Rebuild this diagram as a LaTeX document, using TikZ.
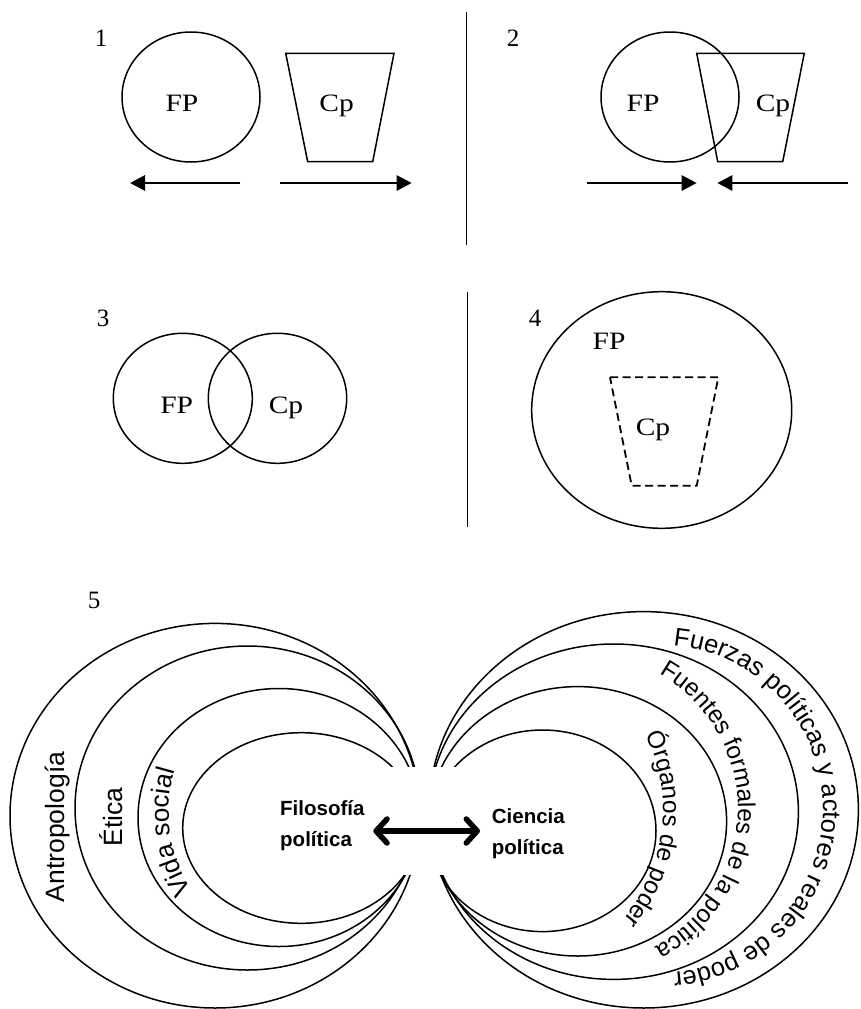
\documentclass[tikz,border=0pt]{standalone}
\usepackage{fontspec}
\setmainfont{Liberation Serif}
\newfontfamily\arialf{Liberation Sans}
\usetikzlibrary{arrows.meta,decorations.text}
\begin{document}
\begin{tikzpicture}[x=1pt,y=1pt,
  outline/.style={line width=1.5pt},
  dashedline/.style={line width=1.8pt, dash pattern=on 8pt off 4.5pt},
  serif text/.style={font=\fontsize{25}{30}\selectfont, inner sep=0pt, anchor=base},
  panel arrow/.style={line width=2.8pt, -{Triangle[length=15pt,width=15pt]}},
  twin arrow/.style={line width=5.5pt, {Straight Barb[length=11pt,width=24pt,round]}-{Straight Barb[length=11pt,width=24pt,round]}},
  sans text/.style={font=\arialf\fontsize{26.5}{30}\selectfont, inner sep=0pt},
  bold text/.style={font=\arialf\bfseries\fontsize{20.5}{31.5}\selectfont, align=left, inner sep=0pt, anchor=north west},
]
\useasboundingbox (0,0) rectangle (860,-1009);

% ---------- panel 1
\node[serif text] (n1) at (101,-46.7) {1};
\draw[outline] (191,-97) ellipse [x radius=69, y radius=65];
\draw[outline] (285.7,-53.3) -- (394,-53.3) -- (372.7,-161.7) -- (307.7,-161.7) -- cycle;
\node[serif text] (fp1) at (182,-111.7) {\scalebox{1.18}[1]{FP}};
\node[serif text] (cp1) at (336.7,-111.7) {\scalebox{1.18}[1]{Cp}};
\coordinate (a1s) at (240,-183); \coordinate (a1e) at (130,-183);
\coordinate (b1s) at (280,-183); \coordinate (b1e) at (411.7,-183);
\draw[panel arrow] (a1s) -- (a1e);
\draw[panel arrow] (b1s) -- (b1e);
\coordinate (d1t) at (466.7,-12); \coordinate (d1b) at (466.7,-245);
\draw[outline] (d1t) -- (d1b);

% ---------- panel 2
\node[serif text] (n2) at (513,-46.7) {2};
\draw[outline] (670,-97) ellipse [x radius=69, y radius=65];
\draw[outline] (696.7,-53.3) -- (804.3,-53.3) -- (782.7,-161.7) -- (717.7,-161.7) -- cycle;
\node[serif text] (fp2) at (643,-111.7) {\scalebox{1.18}[1]{FP}};
\node[serif text] (cp2) at (773,-111.7) {\scalebox{1.18}[1]{Cp}};
\coordinate (a2s) at (586.7,-183); \coordinate (a2e) at (696.7,-183);
\coordinate (b2s) at (848,-183); \coordinate (b2e) at (717.3,-183);
\draw[panel arrow] (a2s) -- (a2e);
\draw[panel arrow] (b2s) -- (b2e);

% ---------- panel 3
\node[serif text] (n3) at (103,-326.7) {3};
\draw[outline] (182.8,-398.3) ellipse [x radius=69.5, y radius=65];
\draw[outline] (277.5,-398.3) ellipse [x radius=69.2, y radius=65];
\node[serif text] (fp3) at (176.7,-413.3) {\scalebox{1.18}[1]{FP}};
\node[serif text] (cp3) at (286,-413.3) {\scalebox{1.18}[1]{Cp}};

% ---------- panel 4
\coordinate (d2t) at (467.3,-291.7); \coordinate (d2b) at (467.3,-526.7);
\draw[outline] (d2t) -- (d2b);
\node[serif text] (n4) at (535,-326.7) {4};
\draw[outline] (661.7,-410) ellipse [x radius=130, y radius=118.3];
\node[serif text] (fp4) at (609,-349.3) {\scalebox{1.18}[1]{FP}};
\draw[dashedline] (610,-377.3) -- (718.3,-377.3) -- (696.7,-485.7) -- (631.7,-485.7) -- cycle;
\node[serif text] (cp4) at (653,-435) {\scalebox{1.18}[1]{Cp}};

% ---------- panel 5
\node[serif text] (n5) at (94,-608) {5};
% left rings
\draw[outline] (215,-815.7) ellipse [x radius=205, y radius=192.3];
\draw[outline] (247.5,-808) ellipse [x radius=172.5, y radius=162];
\draw[outline] (279,-817.5) ellipse [x radius=141, y radius=129];
\draw[outline] (301.3,-828) ellipse [x radius=118.6, y radius=95.3];
% right rings
\draw[outline] (643.7,-809.8) ellipse [x radius=214.7, y radius=198.2];
\draw[outline] (613.7,-811.7) ellipse [x radius=184.7, y radius=167.7];
\draw[outline] (577.8,-821.3) ellipse [x radius=148.8, y radius=134.7];
\draw[outline] (542.5,-830.8) ellipse [x radius=113.5, y radius=100.8];
% gap between the two sides
\fill[white] (368,-767) rectangle (472,-875);

\node[bold text] (filo) at (280,-800) {Filosofía\\política};
\node[bold text] (cien) at (491.7,-808) {Ciencia\\política};
\coordinate (tl) at (373.3,-831); \coordinate (tr) at (480,-831);
\draw[twin arrow] (tl) -- (tr);

\node[sans text, rotate=90] (antro) at (57,-827) {Antropología};
\node[sans text, rotate=90] (etica) at (111,-817) {Ética};

\path[decorate, decoration={text along path, text align=center,
  text={|\arialf\fontsize{26}{30}\selectfont|Vida social}}]
  ([shift={(225:146)}]315,-812) arc[start angle=225, end angle=151, radius=146];

\path[decorate, decoration={text along path, text align=center,
  text={|\arialf\fontsize{24.5}{30}\selectfont|Órganos de poder}}]
  ([shift={(40:172)}]491,-810) arc[start angle=40, end angle=-54, radius=172];

\path[decorate, decoration={text along path, text align=center,
  text={|\arialf\fontsize{24.5}{30}\selectfont|Fuentes formales de la política}}]
  ([shift={(85:155)}]583,-809) arc[start angle=85, end angle=-87, radius=155];

\path[decorate, decoration={text along path, text align=center,
  text={|\arialf\fontsize{25.5}{30}\selectfont|Fuerzas políticas y actores reales de poder}}]
  ([shift={(100:164.4)}]658.6,-809) arc[start angle=100, end angle=-100, radius=164.4];
\end{tikzpicture}
\end{document}
